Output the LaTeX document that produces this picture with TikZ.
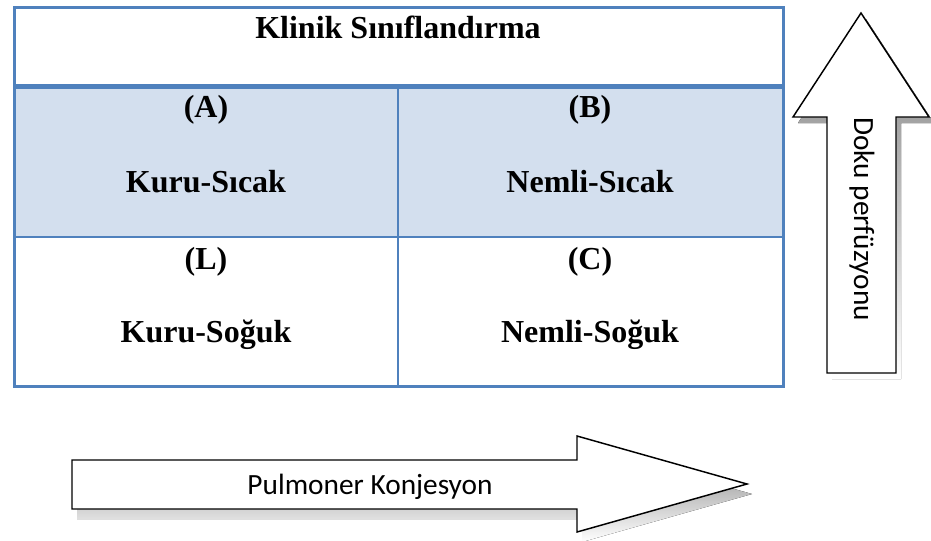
\documentclass[tikz,border=0pt]{standalone}
\usepackage{fontspec}
\setmainfont{Liberation Serif}
\newfontfamily\calibrifont{Carlito}
\usepackage{tikz}
\usetikzlibrary{calc}
\definecolor{tblue}{RGB}{79,129,189}
\definecolor{tfill}{RGB}{211,223,238}
\definecolor{shade}{RGB}{128,128,128}

\begin{document}
\begin{tikzpicture}[x=0.75pt,y=-0.75pt,
  cell/.style={anchor=base,font=\fontsize{24}{28}\selectfont\bfseries},
  arrtext/.style={font=\calibrifont\fontsize{22}{26}\selectfont},
  bigarrow/.style={draw=black,fill=white,line width=1.1pt}]
 \useasboundingbox (0,0) rectangle (931,540);
 % table
 \fill[tfill] (14,86) rectangle (783,237);
 \draw[tblue,line width=1.9pt] (14,237) -- (783,237);
 \draw[tblue,line width=1.9pt] (398,86) -- (398,386);
 \draw[tblue,line width=3.75pt] (14,86) -- (783,86);
 \draw[tblue,line width=2.25pt] (14,7) rectangle (783,386);
 \node[cell] (title) at (398,38) {Klinik Sınıflandırma};
 \node[cell] (a) at (206,117) {(A)};
 \node[cell] (aname) at (206,192) {Kuru-Sıcak};
 \node[cell] (b) at (590,117) {(B)};
 \node[cell] (bname) at (590,192) {Nemli-Sıcak};
 \node[cell] (l) at (206,269) {(L)};
 \node[cell] (lname) at (206,342) {Kuru-Soğuk};
 \node[cell] (c) at (590,269) {(C)};
 \node[cell] (cname) at (590,342) {Nemli-Soğuk};
 % up arrow
 \fill[shade,shift={(5,6)}] (861,13) -- (929,117) -- (896,117) -- (896,373) -- (827,373) -- (827,117) -- (793,117) -- cycle;
 \draw[bigarrow] (861,13) -- (929,117) -- (896,117) -- (896,373) -- (827,373) -- (827,117) -- (793,117) -- cycle;
 \node[arrtext,rotate=-90] (perf) at (862,219) {Doku perfüzyonu};
 % right arrow
 \fill[shade,shift={(5,10)}] (72,460) -- (577,460) -- (577,436) -- (747,484) -- (577,532) -- (577,509) -- (72,509) -- cycle;
 \draw[bigarrow] (72,460) -- (577,460) -- (577,436) -- (747,484) -- (577,532) -- (577,509) -- (72,509) -- cycle;
 \node[arrtext] (pulm) at (370,487) {Pulmoner Konjesyon};
\end{tikzpicture}
\end{document}
